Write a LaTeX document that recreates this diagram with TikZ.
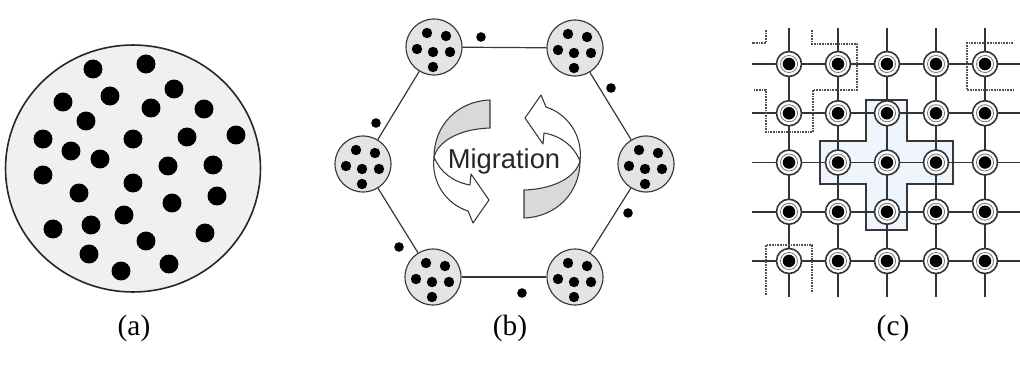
\documentclass[tikz,border=0pt]{standalone}
\usepackage{fontspec}
\usetikzlibrary{calc}
\setmainfont{Liberation Serif}
\newfontfamily\labelsans{Liberation Sans}
\definecolor{discfill}{RGB}{239,241,240}
\definecolor{islefill}{RGB}{228,228,228}
\definecolor{bandgray}{RGB}{217,217,217}
\definecolor{crossfill}{RGB}{238,245,253}
\definecolor{edgegray}{RGB}{55,55,55}
\definecolor{dotline}{RGB}{95,75,75}
\begin{document}
\begin{tikzpicture}[x=0.75pt,y=-0.75pt,
  disc/.style={draw=black!85, line width=1.2pt, fill=discfill},
  isle/.style={circle, draw=edgegray, line width=0.85pt, fill=islefill,
               minimum size=42pt, inner sep=0pt},
  hexedge/.style={draw=edgegray, line width=0.9pt},
  band/.style={draw=edgegray, line width=0.8pt, line join=round},
  gridline/.style={draw=black!80, line width=1.2pt},
  nbhd/.style={draw=edgegray, line width=1pt, fill=crossfill},
  wrapline/.style={draw=dotline, line width=0.9pt, dash pattern=on 1.2pt off 0.8pt},
  cell/.style={circle, draw=black!80, line width=1.2pt, fill=white,
               minimum size=18.75pt, inner sep=0pt,
               path picture={
                 \draw[black!55, line width=0.6pt] (path picture bounding box.center) circle[radius=6.4pt];
                 \fill[black] (path picture bounding box.center) circle[radius=4.7pt];}},
  caption/.style={font=\fontsize{22}{26}\selectfont}
]
\useasboundingbox (0,0) rectangle (1020,364);

% ---------- (a) a single panmictic population ----------
\path[disc] (133,168.5) ellipse[x radius=95.6pt, y radius=92.6pt];
\foreach \px/\py in {93/69,146/64,110/96,174/89,63/102,151/108,204/109,86/121,
                     43/139,133/139,187/137,236/135,71/151,100/159,168/166,213/165,
                     43/175,133/183,79/193,172/203,217/196,124/215,53/229,91/225,
                     146/241,205/233,89/254,169/264,121/271}
  \fill[black] (\px,\py) circle[radius=7.1pt];
\node[caption] (capa) at (134,328) {(a)};

% ---------- (b) island model on a ring ----------
\node[isle] (tl) at (434,47)  {};
\node[isle] (tr) at (575,48)  {};
\node[isle] (rr) at (646,164) {};
\node[isle] (br) at (575,277) {};
\node[isle] (bl) at (433,277) {};
\node[isle] (ll) at (363,164) {};
\draw[hexedge] (tl) -- (tr);
\draw[hexedge] (tr) -- (rr);
\draw[hexedge] (rr) -- (br);
\draw[hexedge] (br) -- (bl);
\draw[hexedge] (bl) -- (ll);
\draw[hexedge] (ll) -- (tl);
\foreach \isl in {tl,tr,rr,br,bl,ll}
  \foreach \dx/\dy in {-7/-14,12/-11,-17/2,-1/5,16/5,-1/20}
    \fill[black] ($(\isl)+(\dx,\dy)$) circle[radius=3.9pt];
% individuals in transit between islands
\foreach \px/\py in {481/37,611/88,376/123,628/213,399/247,522/293}
  \fill[black] (\px,\py) circle[radius=3.6pt];

% migration arrows: the second is the first turned half a turn
\foreach \turn in {0,180}{
  \begin{scope}[rotate around={\turn:(507,159)}]
    \path[band, fill=bandgray]
      (490,100) .. controls (458,101) and (434,125) .. (434,157)
      .. controls (438,142) and (458,129) .. (490,128) -- cycle;
    \path[band, fill=white]
      (434,157) .. controls (431,182) and (446,204) .. (468,211)
      -- (473,223) -- (489,200) -- (471,174) -- (470,185)
      .. controls (453,182) and (440,172) .. (434,157) -- cycle;
  \end{scope}
}
\node[font=\labelsans\fontsize{20.5}{24}\selectfont, text=black!85, anchor=base]
  (mig) at (504,168) {Migration};
\node[caption] (capb) at (510,328) {(b)};

% ---------- (c) cellular grid with neighbourhoods ----------
\path[nbhd] (866,100) -- (907,100) -- (907,141) -- (953,141) -- (953,184)
  -- (907,184) -- (907,230) -- (866,230) -- (866,184) -- (820,184)
  -- (820,141) -- (866,141) -- cycle;
\foreach \j in {0,...,4}{
  \coordinate (hl\j) at (752,64+49.25*\j);
  \coordinate (hr\j) at (1020,64+49.25*\j);
  \draw[gridline] (hl\j) -- (hr\j);
}
\foreach \i in {0,...,4}{
  \coordinate (vt\i) at (789+49*\i,28);
  \coordinate (vb\i) at (789+49*\i,297);
  \draw[gridline] (vt\i) -- (vb\i);
}
% wrapped neighbourhoods at the borders
\draw[wrapline] (766,30) -- (766,43) -- (752,43);
\draw[wrapline] (812,30) -- (812,44) -- (857,44) -- (857,90) -- (813,90)
  -- (813,132) -- (766,132) -- (766,90) -- (753,90);
\draw[wrapline] (1013,43) -- (967,43) -- (967,90) -- (1013,90);
\draw[wrapline] (766,295) -- (766,245) -- (812,245) -- (812,293);
\foreach \i in {0,...,4}
  \foreach \j in {0,...,4}
    \node[cell] (g-\i-\j) at (789+49*\i,64+49.25*\j) {};
\node[caption] (capc) at (893,328) {(c)};
\end{tikzpicture}
\end{document}
